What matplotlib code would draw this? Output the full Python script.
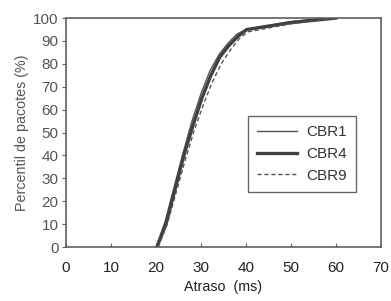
import matplotlib
matplotlib.use("Agg")
import matplotlib.pyplot as plt

plt.rcParams['font.family'] = ['Liberation Sans', 'DejaVu Sans']

cbr1_x = [20.0, 22.0, 24.0, 26.0, 28.0, 30.0, 32.0, 34.0, 36.0, 38.0, 40.0, 50.0, 58.0]
cbr1_y = [0, 11, 26, 41, 55, 67, 77, 84, 89, 93, 95, 98.5, 100]
cbr4_x = [20.2, 22.2, 24.2, 26.2, 28.2, 30.2, 32.2, 34.2, 36.2, 38.2, 40.2, 50.0, 60.0]
cbr4_y = [0, 10, 25, 40, 53, 65, 75, 83, 88, 92, 95, 98, 100]
cbr9_x = [20.5, 22.5, 24.5, 26.5, 28.5, 30.5, 32.5, 34.5, 36.5, 38.5, 40.5, 50.0, 60.0]
cbr9_y = [0, 10, 24, 38, 51, 62, 72, 80, 86, 91, 94, 97.5, 100]
labels = ['CBR1', 'CBR4', 'CBR9']

xticks = [0, 10, 20, 30, 40, 50, 60, 70]
yticks = [0, 10, 20, 30, 40, 50, 60, 70, 80, 90, 100]

fig = plt.figure(figsize=(3.91, 3.01), dpi=100)
ax = fig.add_axes([0.169, 0.179, 0.805, 0.761])

ax.plot(cbr1_x, cbr1_y, color='#555555', lw=1.0, label=labels[0])
ax.plot(cbr4_x, cbr4_y, color='#404040', lw=2.4, label=labels[1])
ax.plot(cbr9_x, cbr9_y, color='#555555', lw=1.0, ls=(0, (3, 2)), label=labels[2])

ax.set_xlim(0, 70)
ax.set_ylim(0, 100)
ax.set_xticks(xticks)
ax.set_yticks(yticks)
for s in ax.spines.values():
    s.set_color('#606060')
    s.set_linewidth(1.2)
ax.tick_params(axis='x', direction='in', length=3, colors='#606060', labelcolor='#222222', labelsize=11, pad=10)
ax.tick_params(axis='y', direction='out', length=3, colors='#606060', labelcolor='#555555', labelsize=11, pad=2.5)
ax.set_xlabel('Atraso  (ms)', fontsize=10.3, color='#222222', labelpad=3.5)
ax.set_ylabel('Percentil de pacotes (%)', fontsize=10.3, color='#555555', labelpad=3)

leg = ax.legend(loc='upper left', bbox_to_anchor=(0.578, 0.572), borderaxespad=0, frameon=True, fancybox=False,
                fontsize=11, handlelength=2.6, handletextpad=0.6, borderpad=0.6, labelspacing=0.5,
                edgecolor='#404040')
leg.get_frame().set_linewidth(1.0)
for t in leg.get_texts():
    t.set_color('#333333')

fig.savefig('out.png', dpi=100)
